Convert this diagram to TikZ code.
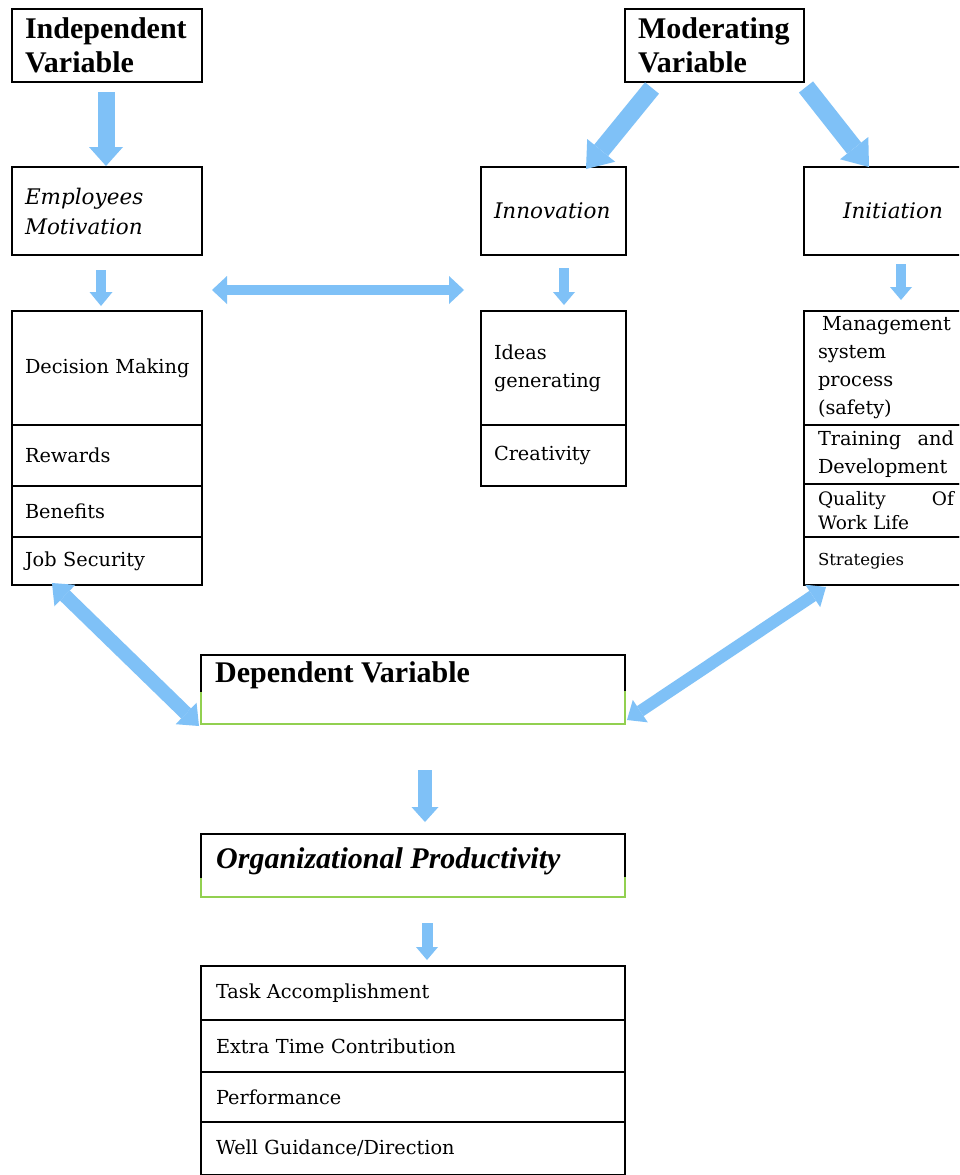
\documentclass[tikz,border=0pt]{standalone}
\usepackage{fontspec}
\setmainfont{DejaVu Serif}
\newfontfamily\timesfam{Liberation Serif}
\usetikzlibrary{arrows.meta,calc}
\definecolor{arrowblue}{RGB}{127,193,247}
\definecolor{boxgreen}{RGB}{146,208,80}
\newcommand\myhead{\timesfam\bfseries\fontsize{30}{34}\selectfont}
\newcommand\myorg{\timesfam\bfseries\itshape\fontsize{30}{34}\selectfont}
\newcommand\mybody{\fontsize{19.3}{28}\selectfont}
\newcommand\myital{\itshape\fontsize{21.5}{30}\selectfont}
\tikzset{
  cell/.style={draw, line width=1.5pt, anchor=north west, inner ysep=0pt, outer sep=0pt, align=left, font=\mybody},
  lcol/.style={cell, inner xsep=13pt, text width=164pt, minimum width=190pt},
  mcol/.style={cell, inner xsep=13pt, text width=119pt, minimum width=145pt},
  rcol/.style={cell, inner xsep=14pt, text width=136pt, minimum width=164pt},
  modcol/.style={cell, inner xsep=13pt, text width=153pt, minimum width=179pt},
  bcol/.style={cell, inner xsep=15pt, text width=394pt, minimum width=424pt},
  frame/.style={anchor=north west, inner sep=0pt, outer sep=0pt, minimum width=424pt},
  barrow/.style args={#1/#2/#3}{draw=arrowblue, line width=#1, -{Triangle[length=#3,width=#2,line width=0pt]}},
  dbarrow/.style args={#1/#2/#3}{draw=arrowblue, line width=#1, {Triangle[length=#3,width=#2,line width=0pt]}-{Triangle[length=#3,width=#2,line width=0pt]}},
}
\begin{document}
\begin{tikzpicture}[x=1pt,y=-1pt]
\useasboundingbox (0,0) rectangle (959,1175);
\fill[white] (0,0) rectangle (959,1175);
\clip (0,0) rectangle (959,1175);

% headings
\node[lcol, font=\myhead, minimum height=73pt] (indep) at (12,9) {Independent\\Variable};
\node[modcol, font=\myhead, minimum height=73pt] (mod) at (625,9) {Moderating\\Variable};

% second row
\node[lcol, font=\myital, minimum height=88pt] (emp) at (12,167) {Employees\\Motivation};
\node[mcol, font=\myital, minimum height=88pt] (innov) at (481,167) {Innovation};
\node[rcol, font=\myital, minimum height=88pt] (init) at (804,167) {\hspace*{25pt}Initiation};

% left stack
\node[lcol, minimum height=114pt] (dm) at (12,311) {\mbox{Decision Making}};
\node[lcol, minimum height=61pt] (rw) at (12,425) {Rewards};
\node[lcol, minimum height=51pt] (bf) at (12,486) {Benefits};
\node[lcol, minimum height=48pt] (js) at (12,537) {Job Security};

% middle stack
\node[mcol, minimum height=114pt] (idea) at (481,311) {Ideas\\generating};
\node[mcol, minimum height=61pt] (crea) at (481,425) {Creativity};

% right stack
\node[rcol, minimum height=114pt] (mgmt) at (804,311) {\hspace*{4pt}Management\\system\\process\\(safety)};
\node[rcol, minimum height=59pt] (train) at (804,425) {Training \hfill and\\Development};
\node[rcol, minimum height=53pt, font=\fontsize{18.5}{24}\selectfont] (qual) at (804,484) {Quality \hfill Of\\Work Life};
\node[rcol, minimum height=48pt, font=\fontsize{16.5}{24}\selectfont] (strat) at (804,537) {Strategies};

% dependent variable
\node[frame, minimum height=69pt] (dep) at (201,655) {};
\draw[line width=1.5pt] ($(dep.north west)+(0,37)$) -- (dep.north west) -- (dep.north east) -- ($(dep.north east)+(0,36)$);
\draw[boxgreen, line width=1.5pt] ($(dep.north west)+(0,37)$) -- (dep.south west) -- (dep.south east) -- ($(dep.north east)+(0,36)$);
\node[anchor=base west, inner sep=0pt, font=\myhead] (deptext) at ($(dep.north west)+(14,27)$) {Dependent Variable};

% organizational productivity
\node[frame, minimum height=63pt] (org) at (201,834) {};
\draw[line width=1.5pt] ($(org.north west)+(0,44)$) -- (org.north west) -- (org.north east) -- ($(org.north east)+(0,43)$);
\draw[boxgreen, line width=1.5pt] ($(org.north west)+(0,44)$) -- (org.south west) -- (org.south east) -- ($(org.north east)+(0,43)$);
\node[anchor=base west, inner sep=0pt, font=\myorg] (orgtext) at ($(org.north west)+(15,34)$) {Organizational Productivity};

% bottom stack
\node[bcol, minimum height=54pt] (task) at (201,966) {Task Accomplishment};
\node[bcol, minimum height=52pt] (extra) at (201,1020) {Extra Time Contribution};
\node[bcol, minimum height=50pt] (perf) at (201,1072) {Performance};
\node[bcol, minimum height=53pt] (well) at (201,1122) {Well Guidance/Direction};

% arrows
\draw[barrow=17pt/34pt/19pt] ($(indep.south)+(-1,10)$) -- ($(emp.north)+(-1,-1)$);
\draw[barrow=10pt/23pt/14pt] ($(emp.south)+(-6,15)$) -- ($(dm.north)+(-6,-5)$);
\coordinate (hL) at ($(emp.south east)+(10,35)$);
\coordinate (hR) at ($(innov.south west)+(-17,35)$);
\draw[dbarrow=10pt/28pt/15pt] (hL) -- (hR);
\draw[barrow=10pt/22pt/13pt] ($(innov.south)+(10.5,13)$) -- ($(idea.north)+(10.5,-6)$);
\draw[barrow=10pt/22pt/13pt] ($(init.south)+(15,9)$) -- ($(mgmt.north)+(15,-11)$);
\draw[barrow=18pt/36pt/24pt] ($(mod.south west)+(27,6)$) -- ($(innov.north east)+(-40,2)$);
\draw[barrow=18pt/36pt/24pt] ($(mod.south east)+(2,5)$) -- ($(init.north west)+(65,0)$);
\draw[dbarrow=14pt/30pt/18pt] ($(js.south west)+(40,-2)$) -- ($(dep.south west)+(-2,2)$);
\draw[dbarrow=12pt/27pt/16pt] ($(dep.south east)+(2,-4)$) -- ($(strat.south west)+(22,2)$);
\draw[barrow=14pt/27pt/15pt] ($(dep.south)+(12,46)$) -- ($(org.north)+(12,-12)$);
\draw[barrow=11pt/22pt/13pt] ($(org.south)+(14,26)$) -- ($(task.north)+(14,-6)$);
\end{tikzpicture}
\end{document}
